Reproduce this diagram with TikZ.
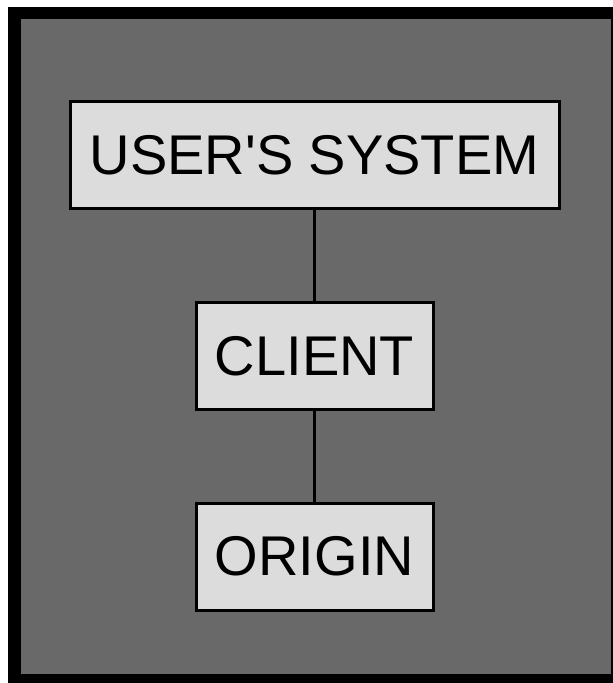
\documentclass[tikz,border=0pt]{standalone}
\usepackage{fontspec}
\setmainfont{Liberation Sans}
\usetikzlibrary{positioning}
\definecolor{framegray}{RGB}{105,105,105}
\definecolor{boxgray}{RGB}{220,220,220}
\tikzset{sysbox/.style={draw,line width=3pt,fill=boxgray,inner sep=0pt,minimum height=107pt,font=\fontsize{56}{60}\selectfont}}

\begin{document}
\begin{tikzpicture}[x=1pt,y=-1pt]
	\useasboundingbox (0,0) rectangle (613,683);
	\fill[black] (8,7) rectangle (613,683);
	\fill[framegray] (21,19) rectangle (611,674);
	\node (user) at (314.5,155)[sysbox,minimum width=489pt] {USER\textquotesingle S SYSTEM};
	\node (client) at (314.5,356)[sysbox,minimum width=237pt] {CLIENT};
	\node (origin) at (314.5,556.5)[sysbox,minimum width=237pt] {ORIGIN};
	\draw[line width=3pt] (user.south)--(client.north);
	\draw[line width=3pt] (client.south)--(origin.north);
	\end{tikzpicture}
\end{document}
